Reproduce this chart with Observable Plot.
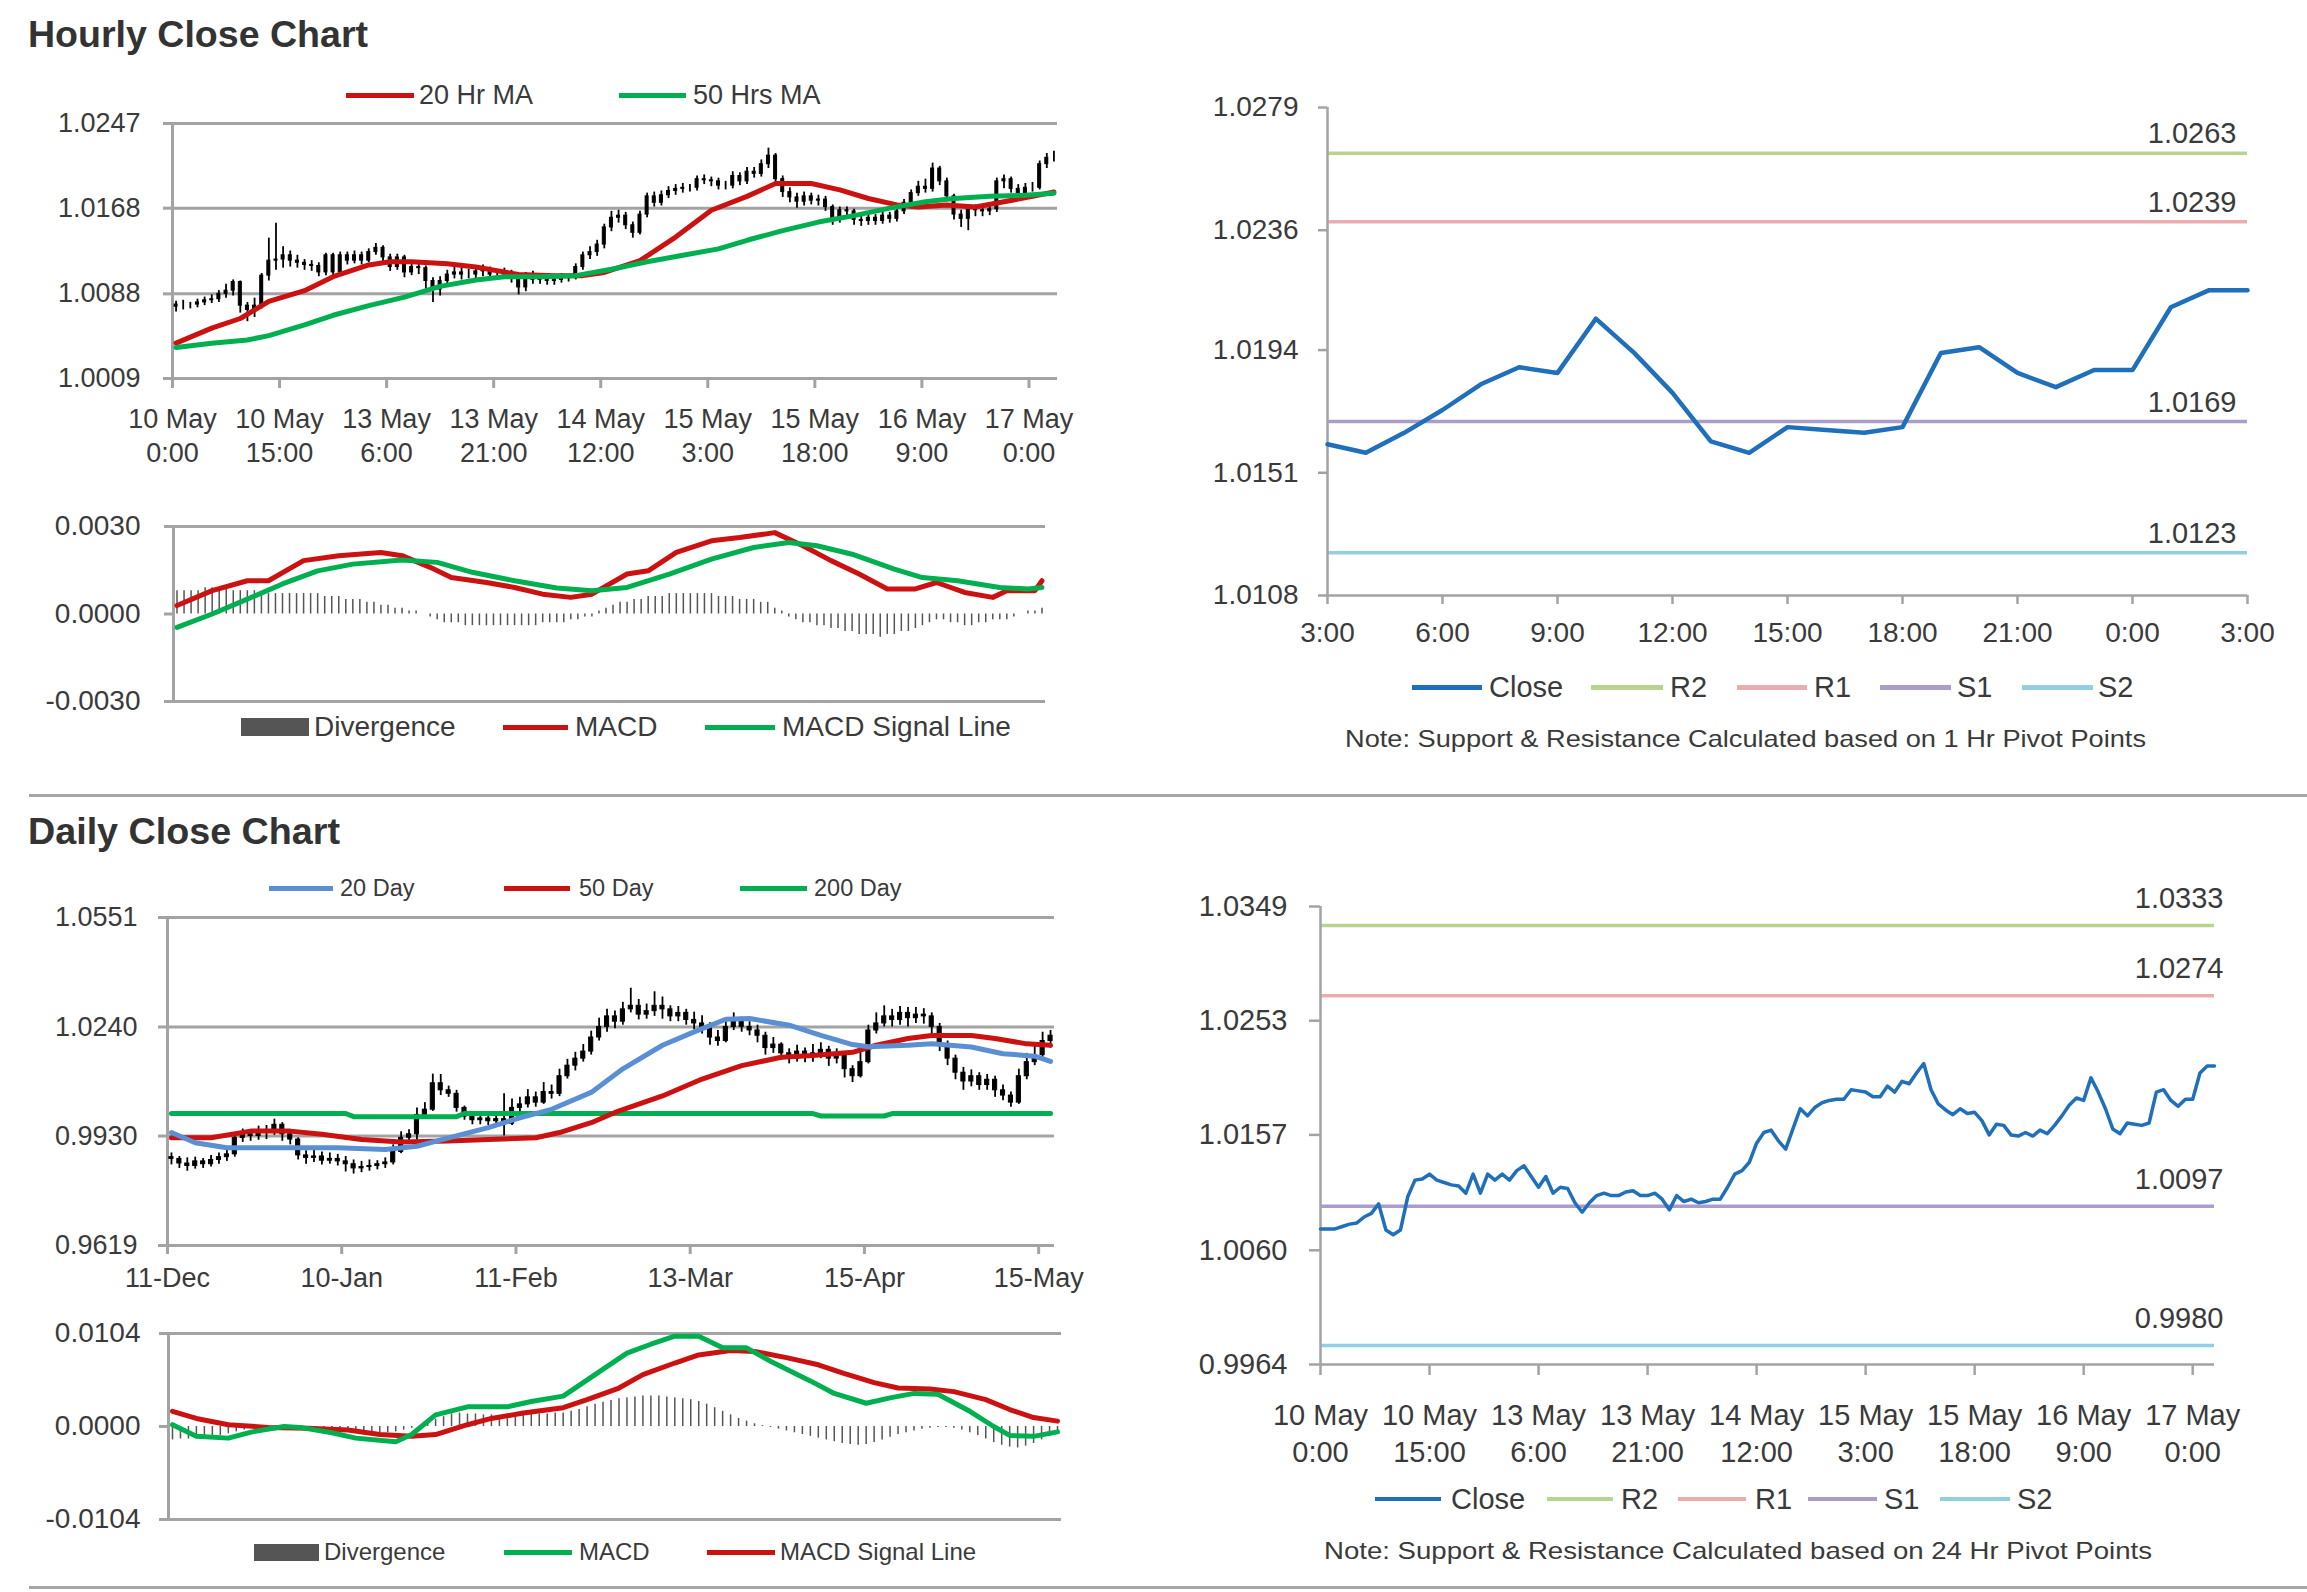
<!DOCTYPE html>
<html><head><meta charset="utf-8">
<script src="https://cdn.jsdelivr.net/npm/d3@7"></script>
<script src="https://cdn.jsdelivr.net/npm/@observablehq/plot@0.6"></script>
<style>
html,body{margin:0;padding:0;background:#fff;}
#root{position:relative;width:2307px;height:1592px;overflow:hidden;font-family:"Liberation Sans",Arial,sans-serif;color:#3a3a3a;background:#fff;}
#root div{position:absolute;white-space:nowrap;}
</style></head><body><div id="root"></div>
<script>
// ---------------- DATA ----------------
// Hourly candles (10 May 0:00 .. 17 May 3:00)
const hOpen0 = 1.0076;
const hClose = [
1.0078,1.0078,1.0078,1.0080,1.0082,1.0083,1.0088,1.0091,1.0099,1.0077,
1.0073,1.0077,1.0105,1.0119,1.0120,1.0124,1.0119,1.0117,1.0115,1.0114,
1.0108,1.0124,1.0108,1.0124,1.0119,1.0124,1.0119,1.0127,1.0131,1.0122,
1.0113,1.0122,1.0108,1.0113,1.0112,1.0100,1.0092,1.0100,1.0106,1.0108,
1.0106,1.0106,1.0109,1.0110,1.0106,1.0106,1.0108,1.0103,1.0094,1.0106,
1.0101,1.0103,1.0100,1.0101,1.0103,1.0103,1.0113,1.0124,1.0127,1.0134,
1.0150,1.0159,1.0161,1.0152,1.0145,1.0162,1.0179,1.0173,1.0180,1.0184,
1.0186,1.0187,1.0187,1.0195,1.0194,1.0193,1.0189,1.0189,1.0198,1.0193,
1.0202,1.0200,1.0209,1.0217,1.0195,1.0183,1.0178,1.0174,1.0179,1.0175,
1.0176,1.0169,1.0157,1.0166,1.0165,1.0157,1.0156,1.0159,1.0156,1.0161,
1.0158,1.0165,1.0173,1.0182,1.0188,1.0186,1.0205,1.0193,1.0179,1.0162,
1.0158,1.0167,1.0166,1.0165,1.0167,1.0193,1.0195,1.0186,1.0181,1.0187,
1.0187,1.0209,1.0215,1.0215];
const hHigh = [
1.0081,1.0082,1.0080,1.0083,1.0085,1.0087,1.0091,1.0097,1.0101,1.0100,
1.0080,1.0084,1.0107,1.0140,1.0154,1.0132,1.0128,1.0124,1.0120,1.0119,
1.0117,1.0126,1.0126,1.0127,1.0127,1.0128,1.0127,1.0130,1.0135,1.0133,
1.0125,1.0125,1.0124,1.0117,1.0116,1.0114,1.0103,1.0104,1.0110,1.0113,
1.0112,1.0111,1.0113,1.0115,1.0113,1.0110,1.0112,1.0110,1.0105,1.0108,
1.0109,1.0107,1.0106,1.0105,1.0107,1.0106,1.0116,1.0127,1.0132,1.0138,
1.0153,1.0165,1.0166,1.0164,1.0155,1.0165,1.0182,1.0183,1.0184,1.0188,
1.0190,1.0191,1.0190,1.0198,1.0199,1.0197,1.0196,1.0193,1.0202,1.0201,
1.0206,1.0206,1.0213,1.0224,1.0219,1.0198,1.0187,1.0182,1.0183,1.0182,
1.0180,1.0179,1.0171,1.0169,1.0169,1.0167,1.0161,1.0163,1.0162,1.0165,
1.0164,1.0168,1.0176,1.0185,1.0193,1.0195,1.0210,1.0207,1.0196,1.0181,
1.0166,1.0170,1.0171,1.0169,1.0172,1.0196,1.0199,1.0197,1.0190,1.0191,
1.0192,1.0212,1.0219,1.0221];
const hLow = [
1.0071,1.0073,1.0074,1.0075,1.0077,1.0079,1.0080,1.0084,1.0086,1.0070,
1.0062,1.0066,1.0074,1.0100,1.0110,1.0112,1.0113,1.0112,1.0110,1.0109,
1.0104,1.0105,1.0104,1.0106,1.0115,1.0116,1.0115,1.0117,1.0124,1.0118,
1.0109,1.0110,1.0103,1.0105,1.0106,1.0090,1.0080,1.0086,1.0097,1.0102,
1.0101,1.0102,1.0102,1.0104,1.0101,1.0101,1.0102,1.0098,1.0087,1.0090,
1.0097,1.0097,1.0096,1.0096,1.0098,1.0099,1.0101,1.0110,1.0120,1.0123,
1.0130,1.0146,1.0154,1.0148,1.0140,1.0143,1.0159,1.0169,1.0170,1.0177,
1.0180,1.0182,1.0183,1.0184,1.0190,1.0188,1.0185,1.0185,1.0186,1.0189,
1.0190,1.0196,1.0197,1.0205,1.0190,1.0178,1.0173,1.0168,1.0170,1.0171,
1.0170,1.0165,1.0152,1.0154,1.0160,1.0152,1.0151,1.0152,1.0152,1.0153,
1.0154,1.0155,1.0162,1.0170,1.0179,1.0182,1.0183,1.0189,1.0175,1.0157,
1.0150,1.0147,1.0160,1.0160,1.0161,1.0164,1.0186,1.0182,1.0177,1.0178,
1.0183,1.0185,1.0205,1.0211];
// moving averages: [candle index, value]
const hMa20 = [[0,1.0042],[5,1.0056],[9,1.0065],[13,1.0081],[18,1.0091],[22,1.0104],[27,1.0115],[30,1.0118],[33,1.0118],[38,1.0116],[42,1.0113],[48,1.0106],[53,1.0105],[57,1.0105],[60,1.0108],[65,1.0119],[70,1.0141],[75,1.0166],[80,1.0179],[84,1.0191],[89,1.0191],[93,1.0185],[97,1.0177],[101,1.0171],[104,1.0169],[108,1.0171],[112,1.0169],[116,1.0174],[120,1.0179],[123,1.0183]];
const hMa50 = [[0,1.0038],[5,1.0042],[10,1.0045],[13,1.0049],[18,1.0059],[22,1.0068],[27,1.0077],[32,1.0085],[37,1.0095],[42,1.0101],[46,1.0104],[51,1.0104],[56,1.0105],[61,1.0111],[66,1.0118],[71,1.0124],[76,1.0130],[80,1.0138],[85,1.0147],[90,1.0155],[95,1.0161],[100,1.0168],[105,1.0174],[109,1.0177],[114,1.0179],[119,1.0180],[123,1.0182]];
const hMacd = [[0,0.00029],[5,0.0008],[10,0.00114],[13,0.00114],[18,0.00183],[23,0.0020],[29,0.00211],[32,0.0020],[36,0.0016],[39,0.00125],[44,0.00108],[48,0.00091],[52,0.00068],[56,0.00057],[59,0.00068],[64,0.00137],[67,0.00148],[71,0.00211],[76,0.00251],[80,0.00262],[85,0.00279],[89,0.00234],[93,0.00183],[97,0.00137],[101,0.00086],[105,0.00086],[108,0.00108],[112,0.00074],[116,0.00057],[118,0.0008],[122,0.0008],[123,0.00114]];
const hSignal = [[0,-0.00046],[5,0],[10,0.00051],[15,0.00103],[20,0.00148],[25,0.00171],[32,0.00185],[37,0.00177],[42,0.00143],[48,0.00114],[54,0.00089],[59,0.0008],[64,0.00091],[70,0.00137],[76,0.00188],[82,0.00228],[87,0.00245],[91,0.00234],[96,0.00205],[102,0.00154],[106,0.00125],[111,0.00114],[117,0.00091],[121,0.00086],[123,0.00091]];
const hDiv = [
0.0008,0.0008,0.0008,0.0008,0.0009,0.0009,0.0009,0.0009,0.0008,0.0008,
0.0008,0.0008,0.0007,0.0007,0.0007,0.0007,0.0007,0.0007,0.0007,0.0007,
0.0007,0.0006,0.0006,0.0006,0.0005,0.0005,0.0005,0.0004,
0.0004,0.0003,0.0003,0.0002,0.0002,0.0001,0.0001,0.0000,
-0.0001,-0.0002,-0.0003,-0.0003,-0.0003,-0.0004,-0.0004,-0.0004,-0.0004,-0.0004,-0.0004,-0.0004,
-0.0004,-0.0004,-0.0004,-0.0004,-0.0003,-0.0003,-0.0003,-0.0003,-0.0002,-0.0002,-0.0001,-0.0001,
0.0001,0.0002,0.0003,0.0004,0.0004,0.0005,0.0005,0.0006,0.0006,0.0006,
0.0007,0.0007,0.0007,0.0007,0.0007,0.0007,0.0007,0.0006,0.0006,0.0006,
0.0005,0.0005,0.0005,0.0004,0.0004,0.0002,0.0001,
-0.0001,-0.0002,-0.0003,-0.0003,-0.0004,-0.0004,-0.0005,-0.0005,-0.0006,-0.0006,-0.0007,-0.0007,-0.0007,
-0.0008,-0.0007,-0.0007,-0.0006,-0.0006,-0.0005,-0.0004,-0.0003,
-0.0002,-0.0002,-0.0003,-0.0003,-0.0004,-0.0004,-0.0003,-0.0003,-0.0002,-0.0002,-0.0002,
-0.0001,0.0000,0.0001,0.0001,0.0002];
const hTickDates = ["10 May","10 May","13 May","13 May","14 May","15 May","15 May","16 May","17 May"];
const hTickTimes = ["0:00","15:00","6:00","21:00","12:00","3:00","18:00","9:00","0:00"];
const hYTicks = [1.0009, 1.0088, 1.0168, 1.0247];
const hMacdTicks = [-0.0030, 0.0000, 0.0030];
// last 24 hours (1 Hr pivots)
const hrStart = 99;
const hrTickLabels = ["3:00","6:00","9:00","12:00","15:00","18:00","21:00","0:00","3:00"];
const hrYTicks = [1.0108, 1.0151, 1.0194, 1.0236, 1.0279];
const levelNames = ["R2","R1","S1","S2"];
const hrLevels = [1.0263, 1.0239, 1.0169, 1.0123];
// daily candles (11-Dec .. May)
const dOpen0 = 0.9870;
const dClose = [
0.9865,0.9852,0.9845,0.9858,0.9850,0.9862,0.9870,0.9878,0.9925,0.9935,
0.9930,0.9945,0.9940,0.9962,0.9935,0.9920,0.9875,0.9868,0.9872,0.9860,
0.9865,0.9858,0.9850,0.9838,0.9842,0.9845,0.9850,0.9855,0.9885,0.9925,
0.9935,0.9990,1.0005,1.0080,1.0060,1.0050,1.0010,0.9985,0.9975,0.9980,
0.9972,0.9978,0.9965,1.0010,1.0020,1.0040,1.0025,1.0055,1.0050,1.0100,
1.0130,1.0150,1.0170,1.0210,1.0240,1.0270,1.0255,1.0290,1.0300,1.0275,
1.0285,1.0300,1.0290,1.0270,1.0280,1.0260,1.0250,1.0240,1.0210,1.0200,
1.0240,1.0255,1.0240,1.0230,1.0215,1.0180,1.0190,1.0165,1.0150,1.0170,
1.0155,1.0165,1.0175,1.0150,1.0160,1.0120,1.0100,1.0140,1.0230,1.0250,
1.0270,1.0260,1.0280,1.0265,1.0275,1.0270,1.0240,1.0190,1.0150,1.0110,
1.0085,1.0100,1.0075,1.0090,1.0060,1.0045,1.0025,1.0100,1.0140,1.0160,1.0200,1.0215];
const dHigh = [
0.9882,0.9872,0.9868,0.9870,0.9866,0.9875,0.9882,0.9890,0.9940,0.9950,
0.9948,0.9958,0.9960,0.9978,0.9968,0.9945,0.9925,0.9888,0.9892,0.9885,
0.9882,0.9878,0.9872,0.9862,0.9858,0.9862,0.9860,0.9868,0.9905,0.9942,
0.9948,1.0010,1.0025,1.0106,1.0105,1.0072,1.0060,1.0015,0.9995,0.9992,
0.9990,0.9992,1.0050,1.0035,1.0040,1.0062,1.0055,1.0082,1.0075,1.0120,
1.0148,1.0168,1.0190,1.0228,1.0265,1.0290,1.0285,1.0310,1.0350,1.0318,
1.0305,1.0340,1.0325,1.0300,1.0298,1.0290,1.0282,1.0272,1.0252,1.0230,
1.0262,1.0280,1.0268,1.0255,1.0245,1.0225,1.0210,1.0195,1.0178,1.0188,
1.0180,1.0190,1.0195,1.0185,1.0178,1.0165,1.0130,1.0170,1.0245,1.0280,
1.0300,1.0290,1.0298,1.0295,1.0295,1.0292,1.0280,1.0250,1.0200,1.0160,
1.0125,1.0118,1.0110,1.0105,1.0100,1.0075,1.0055,1.0120,1.0165,1.0185,1.0225,1.0230];
const dLow = [
0.9848,0.9838,0.9830,0.9836,0.9838,0.9842,0.9850,0.9858,0.9870,0.9912,
0.9915,0.9918,0.9920,0.9932,0.9915,0.9905,0.9862,0.9850,0.9855,0.9848,
0.9850,0.9845,0.9828,0.9822,0.9826,0.9830,0.9834,0.9838,0.9848,0.9880,
0.9915,0.9918,0.9985,1.0000,1.0045,1.0040,0.9998,0.9975,0.9962,0.9962,
0.9960,0.9962,0.9930,0.9960,0.9998,1.0010,1.0012,1.0020,1.0035,1.0042,
1.0092,1.0115,1.0140,1.0160,1.0200,1.0225,1.0235,1.0245,1.0280,1.0260,
1.0262,1.0270,1.0262,1.0255,1.0255,1.0245,1.0232,1.0220,1.0188,1.0185,
1.0195,1.0230,1.0225,1.0215,1.0195,1.0160,1.0165,1.0145,1.0135,1.0140,
1.0138,1.0140,1.0150,1.0128,1.0135,1.0095,1.0082,1.0095,1.0135,1.0220,
1.0240,1.0240,1.0245,1.0240,1.0250,1.0248,1.0220,1.0170,1.0130,1.0090,
1.0060,1.0070,1.0060,1.0060,1.0040,1.0030,1.0012,1.0020,1.0090,1.0130,1.0150,1.0180];
const dMa20 = [[0,0.9940],[3,0.9911],[7,0.9897],[14,0.9897],[21,0.9897],[27,0.9892],[31,0.9901],[35,0.9925],[40,0.9954],[44,0.9982],[48,1.0006],[53,1.0054],[57,1.0121],[62,1.0188],[66,1.0226],[70,1.0262],[73,1.0264],[78,1.0245],[82,1.0216],[86,1.0190],[88,1.0184],[93,1.0188],[96,1.0192],[101,1.0183],[105,1.0164],[109,1.0157],[111,1.0142]];
const dMa50 = [[0,0.9925],[5,0.9925],[10,0.9944],[15,0.9944],[19,0.9935],[24,0.9920],[29,0.9913],[35,0.9916],[40,0.9920],[46,0.9925],[49,0.9940],[53,0.9968],[56,0.9997],[62,1.0044],[67,1.0092],[72,1.0130],[77,1.0154],[81,1.0159],[86,1.0168],[89,1.0188],[93,1.0207],[96,1.0216],[101,1.0216],[104,1.0207],[108,1.0192],[111,1.0188]];
const dMa200 = [[0,0.9994],[22,0.9994],[23,0.9985],[36,0.9985],[37,0.9994],[81,0.9994],[82,0.9987],[90,0.9987],[91,0.9994],[111,0.9994]];
const dMacd = [[0,0.0002],[3,-0.0011],[7,-0.0013],[10,-0.0006],[14,0.0000],[16,-0.0001],[20,-0.0007],[23,-0.0013],[28,-0.0017],[30,-0.0009],[33,0.0013],[37,0.0022],[42,0.0022],[45,0.0028],[49,0.0034],[53,0.0058],[57,0.0082],[60,0.0092],[63,0.0101],[66,0.0101],[69,0.0088],[72,0.0088],[75,0.0073],[80,0.0051],[83,0.0037],[87,0.0026],[90,0.0032],[93,0.0037],[96,0.0036],[100,0.0017],[103,0.0000],[105,-0.0010],[108,-0.0011],[111,-0.0006]];
const dSignal = [[0,0.0017],[3,0.0009],[7,0.0002],[12,-0.0001],[17,-0.0002],[22,-0.0004],[26,-0.0009],[30,-0.0011],[33,-0.0009],[37,0.0002],[40,0.0009],[44,0.0015],[49,0.0021],[52,0.0030],[56,0.0043],[59,0.0058],[63,0.0071],[66,0.0080],[70,0.0085],[73,0.0084],[77,0.0077],[81,0.0069],[84,0.0060],[88,0.0049],[91,0.0043],[95,0.0042],[98,0.0039],[102,0.0030],[105,0.0019],[108,0.0010],[111,0.0006]];
const dDiv = [
-0.0015,-0.0014,-0.0014,-0.0013,-0.0013,-0.0012,-0.0010,-0.0008,-0.0006,-0.0004,
-0.0002,-0.0001,0.0000,0.0001,0.0002,0.0001,0.0000,-0.0001,-0.0002,-0.0003,
-0.0004,-0.0005,-0.0006,-0.0007,-0.0008,-0.0008,-0.0008,-0.0007,-0.0006,-0.0004,
-0.0002,0.0001,0.0004,0.0008,0.0011,0.0014,0.0015,0.0014,0.0014,0.0013,
0.0013,0.0012,0.0012,0.0013,0.0013,0.0014,0.0014,0.0014,0.0015,0.0015,
0.0017,0.0019,0.0022,0.0025,0.0027,0.0029,0.0031,0.0032,0.0033,0.0034,
0.0034,0.0034,0.0033,0.0032,0.0031,0.0030,0.0028,0.0025,0.0021,0.0017,
0.0013,0.0009,0.0006,0.0003,0.0001,-0.0001,-0.0003,-0.0005,-0.0007,-0.0009,
-0.0011,-0.0013,-0.0015,-0.0017,-0.0019,-0.0020,-0.0021,-0.0020,-0.0018,-0.0015,
-0.0012,-0.0009,-0.0007,-0.0005,-0.0003,-0.0002,-0.0001,-0.0001,-0.0002,-0.0004,
-0.0007,-0.0010,-0.0014,-0.0018,-0.0021,-0.0023,-0.0024,-0.0022,-0.0019,-0.0015,-0.0011,-0.0008];
const dTickLabels = ["11-Dec","10-Jan","11-Feb","13-Mar","15-Apr","15-May"];
const dYTicks = [0.9619, 0.9930, 1.0240, 1.0551];
const dMacdTicks = [-0.0104, 0.0000, 0.0104];
// 24 hr pivot levels for the hourly-close line
const drYTicks = [0.9964, 1.0060, 1.0157, 1.0253, 1.0349];
const drLevels = [1.0333, 1.0274, 1.0097, 0.9980];

// ---------------- STYLE ----------------
const GRID = "#a3a3a3", TXT = "#3a3a3a";
const RED = "#cc1111", GREEN = "#00b050", BLUE20 = "#5b8fd3", CLOSE = "#1f6fba", DIVC = "#555555";
const LVC = {R2: "#b8d58f", R1: "#e9adad", S1: "#ab9ccb", S2: "#92cfe0"};
const FONT = "'Liberation Sans', Arial, sans-serif";
const root = document.getElementById("root");
const f4 = d => d.toFixed(4);
const pts = a => a.map(([i, v]) => ({i, v}));
const style = fs => `font-family:${FONT};font-size:${fs}px;color:${TXT};background:transparent;overflow:visible;`;
function place(el, left, top) {
  el.style.position = "absolute"; el.style.left = left + "px"; el.style.top = top + "px"; root.appendChild(el);
}
function div(text, css) {
  const d = document.createElement("div"); d.textContent = text; d.style.cssText = css; root.appendChild(d); return d;
}
function fit(el, w) {
  const a = el.getBoundingClientRect().width;
  el.style.transformOrigin = "left center"; el.style.transform = `scaleX(${w / a})`;
}
function legendItem(kind, color, label, sx, sw, tx, cy, fs, th) {
  div("", `left:${sx}px;top:${cy - th / 2}px;width:${sw}px;height:${th}px;background:${color};`);
  div(label, `left:${tx}px;top:${cy - fs * 0.6}px;font-size:${fs}px;line-height:${fs * 1.2}px;color:${TXT};`);
}
function candleMarks(cs, halfBody) {
  return [
    Plot.ruleX(cs, {x: d => d.i + 0.5, y1: "lo", y2: "hi", stroke: "#000", strokeWidth: 1.8}),
    Plot.rect(cs, {x1: d => d.i + 0.5 - halfBody, x2: d => d.i + 0.5 + halfBody, y1: "o", y2: "c", fill: "#000", stroke: "#000", strokeWidth: 1})
  ];
}

// ---------------- LAYOUT TEXT ----------------
fit(div("Hourly Close Chart", `left:28px;top:17px;font-size:36px;line-height:36px;font-weight:bold;color:#333;`), 340);
fit(div("Daily Close Chart", `left:28px;top:814px;font-size:36px;line-height:36px;font-weight:bold;color:#333;`), 312);
div("", "left:29px;top:794px;width:2278px;height:3px;background:#a6a6a6;");
div("", "left:29px;top:1586px;width:2278px;height:3px;background:#a6a6a6;");

// ---------------- A: hourly candles ----------------
const hCandles = hClose.map((c, i) => ({i, o: i ? hClose[i - 1] : hOpen0, c, hi: hHigh[i], lo: hLow[i]}));
const hXTicks = d3.range(0, hClose.length, 15);
const A = Plot.plot({
  width: 1067, height: 373, marginLeft: 172, marginRight: 10, marginTop: 23, marginBottom: 95,
  style: style(27),
  x: {domain: [0, hClose.length]},
  y: {domain: [hYTicks[0], hYTicks[hYTicks.length - 1]]},
  marks: [
    Plot.ruleY(hYTicks, {stroke: GRID, strokeWidth: 3}),
    Plot.axisY({ticks: hYTicks, tickFormat: f4, tickSize: 9, tickPadding: 23, stroke: GRID, strokeWidth: 3, fontSize: 27, label: null}),
    Plot.ruleX([0], {stroke: GRID, strokeWidth: 3}),
    Plot.axisX({ticks: hXTicks, tickFormat: d => hTickDates[d / 15], tickSize: 10, tickPadding: 20, stroke: GRID, strokeWidth: 3, fontSize: 27, label: null}),
    Plot.axisX({ticks: hXTicks, tickFormat: d => hTickTimes[d / 15], tickSize: 0, tickPadding: 64, fontSize: 27, label: null}),
    candleMarks(hCandles, 0.21),
    Plot.line(pts(hMa20), {x: d => d.i + 0.5, y: "v", stroke: RED, strokeWidth: 5}),
    Plot.line(pts(hMa50), {x: d => d.i + 0.5, y: "v", stroke: GREEN, strokeWidth: 5})
  ]
});
place(A, 0, 100);
legendItem("line", RED, "20 Hr MA", 346, 68, 419, 95, 27, 5);
legendItem("line", GREEN, "50 Hrs MA", 619, 67, 693, 95, 27, 5);

// ---------------- B: hourly MACD ----------------
const B = Plot.plot({
  width: 1055, height: 211, marginLeft: 173, marginRight: 10, marginTop: 26, marginBottom: 10,
  style: style(28),
  x: {domain: [0, hClose.length], axis: null},
  y: {domain: [hMacdTicks[0], hMacdTicks[2]]},
  marks: [
    Plot.ruleY([hMacdTicks[0], hMacdTicks[2]], {stroke: GRID, strokeWidth: 3}),
    Plot.axisY({ticks: hMacdTicks, tickFormat: f4, tickSize: 9, tickPadding: 24, stroke: GRID, strokeWidth: 3, fontSize: 28, label: null}),
    Plot.ruleX([0], {stroke: GRID, strokeWidth: 3}),
    Plot.ruleX(hDiv, {x: (d, i) => i + 0.5, y1: 0, y2: d => d, stroke: DIVC, strokeWidth: 1.5}),
    Plot.line(pts(hMacd), {x: d => d.i + 0.5, y: "v", stroke: RED, strokeWidth: 5}),
    Plot.line(pts(hSignal), {x: d => d.i + 0.5, y: "v", stroke: GREEN, strokeWidth: 5})
  ]
});
place(B, 0, 500);
legendItem("rect", DIVC, "Divergence", 241, 68, 314, 727, 28, 18);
legendItem("line", RED, "MACD", 503, 65, 575, 727, 28, 5);
legendItem("line", GREEN, "MACD Signal Line", 705, 70, 782, 727, 28, 5);

// ---------------- C: last 24 hours with 1hr pivots ----------------
const hrClose = hClose.slice(hrStart);
const hrN = hrClose.length - 1;
const C = Plot.plot({
  width: 1127, height: 576, marginLeft: 177, marginRight: 30, marginTop: 27, marginBottom: 61,
  style: style(28),
  x: {domain: [0, hrN]},
  y: {domain: [hrYTicks[0], hrYTicks[hrYTicks.length - 1]]},
  marks: [
    hrLevels.map((v, k) => Plot.ruleY([v], {stroke: LVC[levelNames[k]], strokeWidth: 3.5})),
    hrLevels.map(v => Plot.text([v], {x: hrN, y: d => d, text: f4, textAnchor: "end", dx: -11, dy: -19, fontSize: 29, fill: TXT})),
    Plot.ruleX([0], {stroke: GRID, strokeWidth: 2.5}),
    Plot.ruleY([hrYTicks[0]], {stroke: GRID, strokeWidth: 2.5}),
    Plot.axisY({ticks: hrYTicks, tickFormat: f4, tickSize: 9, tickPadding: 20, stroke: GRID, strokeWidth: 2.5, fontSize: 28, label: null}),
    Plot.axisX({ticks: d3.range(0, hrN + 1, 3), tickFormat: d => hrTickLabels[d / 3], tickSize: 9, tickPadding: 18, stroke: GRID, strokeWidth: 2.5, fontSize: 28, label: null}),
    Plot.line(hrClose, {x: (d, i) => i, y: d => d, stroke: CLOSE, strokeWidth: 4.5})
  ]
});
place(C, 1150, 80);
legendItem("line", CLOSE, "Close", 1412, 70, 1489, 687, 29, 5);
[[1591, 72, 1670], [1737, 70, 1814], [1880, 71, 1957], [2022, 71, 2098]].forEach(([sx, sw, tx], k) =>
  legendItem("line", LVC[levelNames[k]], levelNames[k], sx, sw, tx, 687, 29, 5));
fit(div("Note: Support & Resistance Calculated based on 1 Hr Pivot Points", `left:1345px;top:${739 - 14}px;font-size:24px;line-height:28px;color:${TXT};`), 801);

// ---------------- D: daily candles ----------------
const dCandles = dClose.map((c, i) => ({i, o: i ? dClose[i - 1] : dOpen0, c, hi: dHigh[i], lo: dLow[i]}));
const dN = dClose.length;
const dXTicks = d3.range(0, dN, 22);
const D = Plot.plot({
  width: 1064, height: 405, marginLeft: 167, marginRight: 10, marginTop: 27, marginBottom: 50,
  style: style(27),
  x: {domain: [0, dN]},
  y: {domain: [dYTicks[0], dYTicks[dYTicks.length - 1]]},
  marks: [
    Plot.ruleY(dYTicks, {stroke: GRID, strokeWidth: 3}),
    Plot.axisY({ticks: dYTicks, tickFormat: f4, tickSize: 9, tickPadding: 21, stroke: GRID, strokeWidth: 3, fontSize: 27, label: null}),
    Plot.ruleX([0], {stroke: GRID, strokeWidth: 3}),
    Plot.axisX({ticks: dXTicks, tickFormat: d => dTickLabels[d / 22], tickSize: 9, tickPadding: 13, stroke: GRID, strokeWidth: 3, fontSize: 27, label: null}),
    candleMarks(dCandles, 0.26),
    Plot.line(pts(dMa200), {x: d => d.i + 0.5, y: "v", stroke: GREEN, strokeWidth: 5}),
    Plot.line(pts(dMa50), {x: d => d.i + 0.5, y: "v", stroke: RED, strokeWidth: 5}),
    Plot.line(pts(dMa20), {x: d => d.i + 0.5, y: "v", stroke: BLUE20, strokeWidth: 5})
  ]
});
place(D, 0, 890);
legendItem("line", BLUE20, "20 Day", 269, 64, 340, 888, 23.5, 5);
legendItem("line", RED, "50 Day", 504, 66, 579, 888, 23.5, 5);
legendItem("line", GREEN, "200 Day", 740, 67, 814, 888, 23.5, 5);

// ---------------- E: daily MACD ----------------
const E = Plot.plot({
  width: 1071, height: 224, marginLeft: 168, marginRight: 10, marginTop: 28, marginBottom: 10,
  style: style(28),
  x: {domain: [0, dN], axis: null},
  y: {domain: [dMacdTicks[0], dMacdTicks[2]]},
  marks: [
    Plot.ruleY([dMacdTicks[0], dMacdTicks[2]], {stroke: GRID, strokeWidth: 3}),
    Plot.axisY({ticks: dMacdTicks, tickFormat: f4, tickSize: 9, tickPadding: 19, stroke: GRID, strokeWidth: 3, fontSize: 28, label: null}),
    Plot.ruleX([0], {stroke: GRID, strokeWidth: 3}),
    Plot.ruleX(dDiv, {x: (d, i) => i + 0.5, y1: 0, y2: d => d, stroke: DIVC, strokeWidth: 1.5}),
    Plot.line(pts(dSignal), {x: d => d.i + 0.5, y: "v", stroke: RED, strokeWidth: 5}),
    Plot.line(pts(dMacd), {x: d => d.i + 0.5, y: "v", stroke: GREEN, strokeWidth: 5})
  ]
});
place(E, 0, 1305);
legendItem("rect", DIVC, "Divergence", 254, 65, 324, 1552, 24, 17);
legendItem("line", GREEN, "MACD", 504, 68, 579, 1552, 24, 5);
legendItem("line", RED, "MACD Signal Line", 707, 68, 780, 1552, 24, 5);

// ---------------- F: hourly close with 24hr pivots ----------------
const hN = hClose.length - 1;
const F = Plot.plot({
  width: 1104, height: 594, marginLeft: 170, marginRight: 40, marginTop: 36, marginBottom: 100,
  style: style(29),
  x: {domain: [0, hN]},
  y: {domain: [drYTicks[0], drYTicks[drYTicks.length - 1]]},
  marks: [
    drLevels.map((v, k) => Plot.ruleY([v], {stroke: LVC[levelNames[k]], strokeWidth: 3.5})),
    drLevels.map(v => Plot.text([v], {x: hN, y: d => d, text: f4, textAnchor: "end", dx: 9, dy: -27, fontSize: 29, fill: TXT})),
    Plot.ruleX([0], {stroke: GRID, strokeWidth: 2.5}),
    Plot.ruleY([drYTicks[0]], {stroke: GRID, strokeWidth: 2.5}),
    Plot.axisY({ticks: drYTicks, tickFormat: f4, tickSize: 11, tickPadding: 22, stroke: GRID, strokeWidth: 2.5, fontSize: 29, label: null}),
    Plot.axisX({ticks: hXTicks, tickFormat: d => hTickDates[d / 15], tickSize: 11, tickPadding: 29, stroke: GRID, strokeWidth: 2.5, fontSize: 29, label: null}),
    Plot.axisX({ticks: hXTicks, tickFormat: d => hTickTimes[d / 15], tickSize: 0, tickPadding: 77, fontSize: 29, label: null}),
    Plot.line(hClose, {x: (d, i) => i, y: d => d, stroke: CLOSE, strokeWidth: 3.5})
  ]
});
place(F, 1150, 870);
legendItem("line", CLOSE, "Close", 1375, 66, 1451, 1499, 29, 3.5);
[[1547, 66, 1621], [1678, 68, 1755], [1808, 69, 1884], [1940, 70, 2017]].forEach(([sx, sw, tx], k) =>
  legendItem("line", LVC[levelNames[k]], levelNames[k], sx, sw, tx, 1499, 29, 3.5));
fit(div("Note: Support & Resistance Calculated based on 24 Hr Pivot Points", `left:1324px;top:${1551 - 14}px;font-size:24px;line-height:28px;color:${TXT};`), 828);
</script></body></html>
